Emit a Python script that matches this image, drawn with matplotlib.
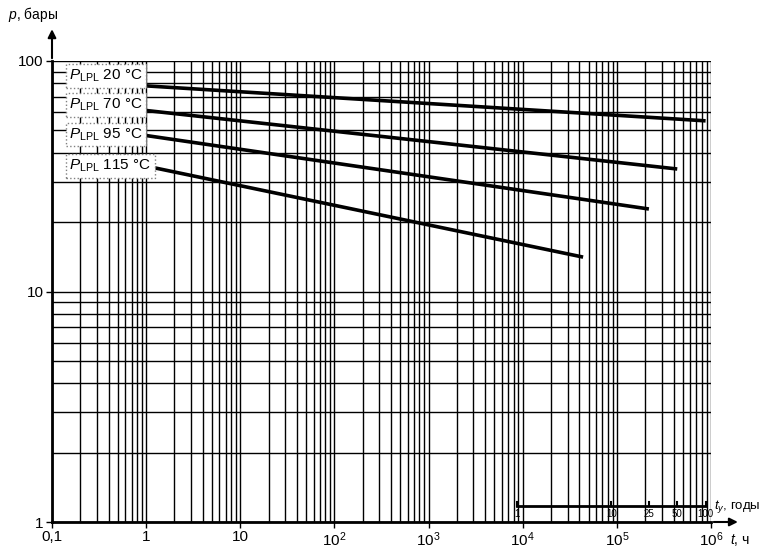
import matplotlib
matplotlib.use('Agg')

import matplotlib.pyplot as plt
import numpy as np

plt.rcParams['font.family'] = ['Liberation Sans', 'DejaVu Sans']
plt.rcParams['mathtext.fontset'] = 'custom'
plt.rcParams['mathtext.rm'] = 'Liberation Sans'
plt.rcParams['mathtext.it'] = 'Liberation Sans:italic'

# curves: P_LPL vs time, hours
temps = ['20', '70', '95', '115']
t_start = [1, 1, 1, 1]
t_end = [876000, 438000, 219000, 43800]
p_start = [78, 61, 47.5, 35]
p_end = [55, 34, 22.8, 14.1]

# years scale
year_ticks = [1, 10, 25, 50, 100]
hours_per_year = 8760

x_ticks = [0.1, 1, 10, 1e2, 1e3, 1e4, 1e5, 1e6]
x_labels = ['0,1', '1', '10', '$10^2$', '$10^3$', '$10^4$', '$10^5$', '$10^6$']
y_ticks = [1, 10, 100]
y_labels = ['1', '10', '100']

fig = plt.figure(figsize=(7.69, 5.49), dpi=100)
ax = fig.add_axes([52 / 769, 27 / 549, 659 / 769, 461 / 549])
ax.set_xscale('log')
ax.set_yscale('log')
ax.set_xlim(0.1, 1e6)
ax.set_ylim(1, 100)

# grid at every minor step
for dec in range(-1, 6):
    for m in range(1, 10):
        ax.axvline(m * 10.0 ** dec, color='black', lw=1.0, zorder=1)
ax.axvline(1e6, color='black', lw=1.0, zorder=1)
for dec in range(0, 2):
    for m in range(1, 10):
        ax.axhline(m * 10.0 ** dec, color='black', lw=1.0, zorder=1)
ax.axhline(100, color='black', lw=1.0, zorder=1)

for t0, t1, p0, p1 in zip(t_start, t_end, p_start, p_end):
    ax.plot([t0, t1], [p0, p1], color='black', lw=2.6, solid_capstyle='butt', zorder=3)

# labels in white boxes
label_y = [0.967, 0.905, 0.840, 0.772]
for temp, yy in zip(temps, label_y):
    ax.text(0.026, yy, r'$P_{\rm LPL}$ ' + temp + ' °C', transform=ax.transAxes,
            fontsize=11, va='center', ha='left', zorder=5,
            bbox=dict(facecolor='white', edgecolor='0.5', linestyle=':', pad=2.5))

ax.set_xticks(x_ticks)
ax.set_xticklabels(x_labels)
ax.set_yticks(y_ticks)
ax.set_yticklabels(y_labels)
ax.minorticks_off()
ax.tick_params(labelsize=11, length=4, width=1, direction='out', pad=2)

for side in ['top', 'right']:
    ax.spines[side].set_visible(False)
ax.spines['left'].set_linewidth(2)
ax.spines['bottom'].set_linewidth(2)

# axis arrows
ax.annotate('', xy=(0, 1.075), xytext=(0, 1.0), xycoords='axes fraction',
            arrowprops=dict(arrowstyle='-|>', color='black', lw=1.5, mutation_scale=12))
ax.annotate('', xy=(1.045, 0), xytext=(1.0, 0), xycoords='axes fraction',
            arrowprops=dict(arrowstyle='-|>', color='black', lw=1.5, mutation_scale=12))
fig.text(8 / 769, 1 - 14 / 549, '$p$, бары', fontsize=10, va='center', ha='left')
fig.text(730 / 769, 1 - 540 / 549, '$t$, ч', fontsize=10, va='center', ha='left')

# years scale
yb = 1.17
yh = [y * hours_per_year for y in year_ticks]
ax.plot([yh[0], yh[-1]], [yb, yb], color='black', lw=2, zorder=4, clip_on=False)
for y, h in zip(year_ticks, yh):
    ax.plot([h, h], [yb, yb * 1.04], color='black', lw=1.5, zorder=4)
    ax.text(h, yb * 0.97, str(y), fontsize=7, ha='center', va='top', zorder=4)
ax.text(yh[-1] * 1.22, yb, '$t_y$, годы', fontsize=9.5, ha='left', va='center')

fig.savefig('out.png', dpi=100)
